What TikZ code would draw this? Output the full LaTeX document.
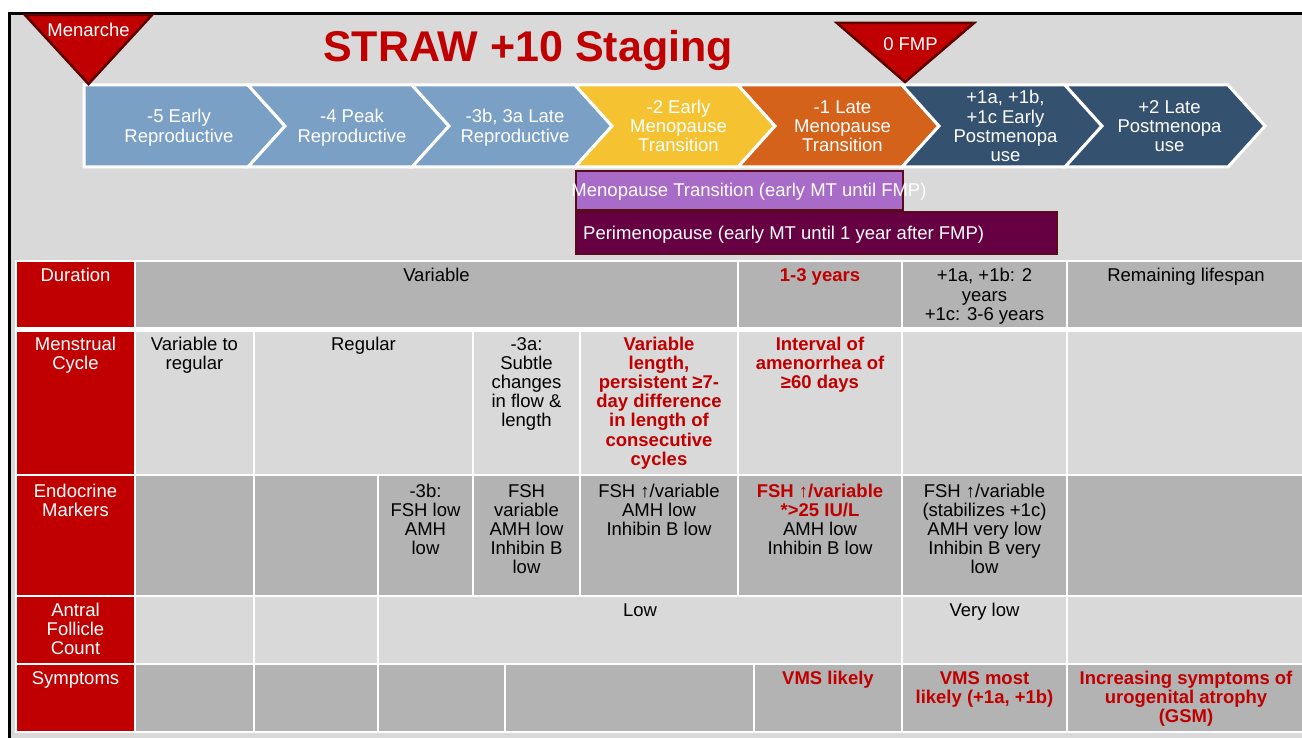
\documentclass[tikz,border=0pt]{standalone}
\usepackage{fontspec}
\setmainfont{Liberation Sans}
\definecolor{slidegray}{HTML}{D9D9D9}
\definecolor{darkcell}{HTML}{B3B3B3}
\definecolor{strawred}{HTML}{C00000}
\definecolor{tridark}{HTML}{5C0000}
\definecolor{chevblue}{HTML}{7BA0C5}
\definecolor{chevyellow}{HTML}{F5C332}
\definecolor{chevorange}{HTML}{D5621A}
\definecolor{chevnavy}{HTML}{34516F}
\definecolor{mtpurple}{HTML}{A96BC8}
\definecolor{perimag}{HTML}{660042}
\definecolor{barborder}{HTML}{5A0A1E}
\newcommand\redbf[1]{{\bfseries\color{strawred}#1}}
\newcommand\chevr[3]{\path[chevshape,fill=#3] (#1,85) -- (#2,85) -- (#2+37,126) -- (#2,167) -- (#1,167) -- (#1+37,126) -- cycle;}
\newcommand\cellr[5]{\path[cellshape,fill=#5] (#1,#2) rectangle (#3,#4);}
\tikzset{
  txt/.style={font=\fontsize{18.5}{19.2}\selectfont, inner sep=0pt, align=center, anchor=base, text=black},
  wtxt/.style={txt, text=white},
  rtxt/.style={txt, text=strawred, font=\fontsize{18.5}{19.2}\selectfont\bfseries},
  chevshape/.style={draw=white, line width=3pt, line join=miter},
  cellshape/.style={draw=white, line width=2pt},
  tri/.style={fill=strawred, draw=tridark, line width=2.5pt, line join=miter},
}
\begin{document}
\begin{tikzpicture}[x=1pt,y=-1pt]
\useasboundingbox (0,0) rectangle (1302,738);
\fill[white] (0,0) rectangle (1302,738);
\fill[slidegray] (9,13) rectangle (1302,738);
\draw[black,line width=3pt] (9.5,738) -- (9.5,13.3) -- (1302,13.3);

% title
\node[inner sep=0pt, anchor=base, text=strawred, font=\fontsize{43}{45}\selectfont\bfseries] (title) at (528,62) {STRAW +10 Staging};

% chevrons (node positions give the baseline of the last line)
\path[chevshape,fill=chevblue] (84,85) -- (248,85) -- (285,126) -- (248,167) -- (84,167) -- cycle;
\chevr{248}{412}{chevblue}
\chevr{412}{575}{chevblue}
\chevr{575}{738}{chevyellow}
\chevr{738}{902}{chevorange}
\chevr{902}{1065}{chevnavy}
\chevr{1065}{1228}{chevnavy}
\node[wtxt] (c1) at (179,142.2) {-5 Early\\Reproductive};
\node[wtxt] (c2) at (352,142.2) {-4 Peak\\Reproductive};
\node[wtxt] (c3) at (515,142.2) {-3b, 3a Late\\Reproductive};
\node[wtxt] (c4) at (678.5,151.9) {-2 Early\\Menopause\\Transition};
\node[wtxt] (c5) at (842.5,151.9) {-1 Late\\Menopause\\Transition};
\node[wtxt] (c6) at (1005.5,161.6) {+1a, +1b,\\+1c Early\\Postmenopa\\use};
\node[wtxt] (c7) at (1169.5,151.9) {+2 Late\\Postmenopa\\use};

% triangles
\path[tri] (25,15) -- (152,15) -- (88.5,84) -- cycle;
\node[wtxt] (men) at (88.5,37) {Menarche};
\path[tri] (837,23) -- (974,23) -- (905,82) -- cycle;
\node[wtxt] (fmp) at (910.5,51) {0 FMP};

% bars
\node[draw=barborder, fill=mtpurple, line width=2pt, minimum width=327pt, minimum height=39pt, inner sep=0pt] (mtbar) at (739.5,190.5) {};
\node[wtxt] (mtlabel) at (749,197) {Menopause Transition (early MT until FMP)};
\node[draw=barborder, fill=perimag, line width=2pt, minimum width=481pt, minimum height=42pt, inner sep=0pt] (pmbar) at (816.5,233) {};
\node[wtxt, anchor=base west] (pmlabel) at (583,240) {Perimenopause (early MT until 1 year after FMP)};

% table cells
% row 1
\cellr{16}{261}{135}{329.5}{strawred}
\cellr{135}{261}{738}{329.5}{darkcell}
\cellr{738}{261}{902}{329.5}{darkcell}
\cellr{902}{261}{1067}{329.5}{darkcell}
\cellr{1067}{261}{1306}{329.5}{darkcell}
% row 2
\cellr{16}{329.5}{135}{475}{strawred}
\cellr{135}{329.5}{254}{475}{slidegray}
\cellr{254}{329.5}{473}{475}{slidegray}
\cellr{473}{329.5}{580}{475}{slidegray}
\cellr{580}{329.5}{738}{475}{slidegray}
\cellr{738}{329.5}{902}{475}{slidegray}
\cellr{902}{329.5}{1067}{475}{slidegray}
\cellr{1067}{329.5}{1306}{475}{slidegray}
% row 3
\cellr{16}{475}{135}{596}{strawred}
\cellr{135}{475}{254}{596}{darkcell}
\cellr{254}{475}{378}{596}{darkcell}
\cellr{378}{475}{473}{596}{darkcell}
\cellr{473}{475}{580}{596}{darkcell}
\cellr{580}{475}{738}{596}{darkcell}
\cellr{738}{475}{902}{596}{darkcell}
\cellr{902}{475}{1067}{596}{darkcell}
\cellr{1067}{475}{1306}{596}{darkcell}
% row 4
\cellr{16}{596}{135}{664}{strawred}
\cellr{135}{596}{254}{664}{slidegray}
\cellr{254}{596}{378}{664}{slidegray}
\cellr{378}{596}{902}{664}{slidegray}
\cellr{902}{596}{1067}{664}{slidegray}
\cellr{1067}{596}{1306}{664}{slidegray}
% row 5
\cellr{16}{664}{135}{732}{strawred}
\cellr{135}{664}{254}{732}{darkcell}
\cellr{254}{664}{378}{732}{darkcell}
\cellr{378}{664}{505}{732}{darkcell}
\cellr{505}{664}{754}{732}{darkcell}
\cellr{754}{664}{902}{732}{darkcell}
\cellr{902}{664}{1067}{732}{darkcell}
\cellr{1067}{664}{1306}{732}{darkcell}
\draw[white,line width=5pt] (15,329.5) -- (1306,329.5);

% header texts
\node[wtxt] (h1) at (75.5,282) {Duration};
\node[wtxt] (h2) at (75.5,369.2) {Menstrual\\Cycle};
\node[wtxt] (h3) at (75.5,516.2) {Endocrine\\Markers};
\node[wtxt] (h4) at (75.5,654.4) {Antral\\Follicle\\Count};
\node[wtxt] (h5) at (75.5,684) {Symptoms};

% row 1 texts
\node[txt] (d1) at (436.5,282) {Variable};
\node[rtxt] (d2) at (820,282) {1-3 years};
\node[txt] (d3) at (984.5,320.4) {+1a, +1b: 2\\years\\+1c: 3-6 years};
\node[txt] (d4) at (1186,282) {Remaining lifespan};

% row 2 texts
\node[txt] (m1) at (194.5,369.2) {Variable to\\regular};
\node[txt] (m2) at (363.5,350) {Regular};
\node[txt] (m3) at (526.5,426.8) {-3a:\\Subtle\\changes\\in flow \&\\length};
\node[rtxt] (m4) at (659,465.2) {Variable\\length,\\persistent ≥7-\\day difference\\in length of\\consecutive\\cycles};
\node[rtxt] (m5) at (820,388.4) {Interval of\\amenorrhea of\\≥60 days};

% row 3 texts
\node[txt] (e1) at (425.5,554.6) {-3b:\\FSH low\\AMH\\low};
\node[txt] (e2) at (526.5,573.8) {FSH\\variable\\AMH low\\Inhibin B\\low};
\node[txt] (e3) at (659,535.4) {FSH ↑/variable\\AMH low\\Inhibin B low};
\node[txt] (e4) at (820,554.6) {\redbf{FSH ↑/variable}\\\redbf{*>25 IU/L}\\AMH low\\Inhibin B low};
\node[txt] (e5) at (984.5,573.8) {FSH ↑/variable\\(stabilizes +1c)\\AMH very low\\Inhibin B very\\low};

% row 4 texts
\node[txt] (a1) at (640,616) {Low};
\node[txt] (a2) at (984.5,616) {Very low};

% row 5 texts
\node[rtxt] (s1) at (828,684) {VMS likely};
\node[rtxt] (s2) at (984.5,703.2) {VMS most\\likely (+1a, +1b)};
\node[rtxt] (s3) at (1186,722.4) {Increasing symptoms of\\urogenital atrophy\\(GSM)};
\end{tikzpicture}
\end{document}
